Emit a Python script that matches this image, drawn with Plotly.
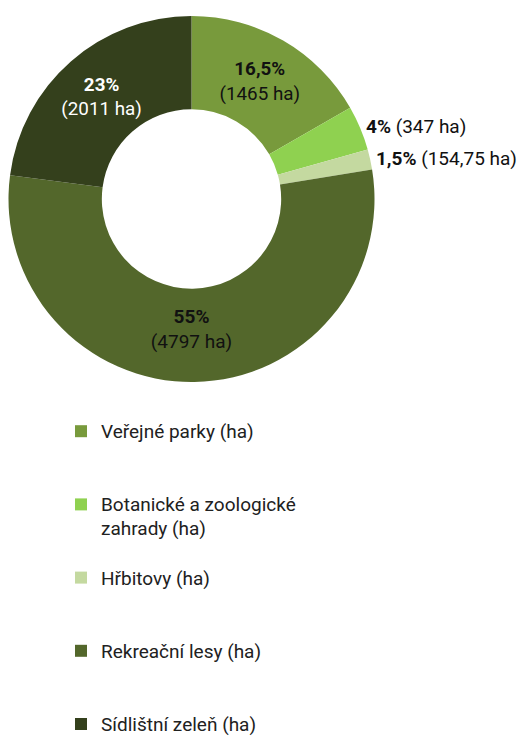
import plotly.graph_objects as go

# Urban green space categories and their areas in hectares
categories = [
    "Veřejné parky (ha)",
    "Botanické a zoologické<br>zahrady (ha)",
    "Hřbitovy (ha)",
    "Rekreační lesy (ha)",
    "Sídlištní zeleň (ha)",
]
area_ha = [1465, 347, 154.75, 4797, 2011]
share_labels = ["16,5%", "4%", "1,5%", "55%", "23%"]

colors = ["#789a3c", "#8fd150", "#c4d9a0", "#53672b", "#34401c"]
text_colors = ["#111111", "#111111", "#111111", "#111111", "#ffffff"]
text_positions = ["inside", "outside", "outside", "inside", "inside"]


def fmt_ha(v):
    s = f"{v:g}"
    return s.replace(".", ",")


slice_text = []
for share, ha, pos in zip(share_labels, area_ha, text_positions):
    sep = "<br>" if pos == "inside" else " "
    slice_text.append(f"<b>{share}</b>{sep}({fmt_ha(ha)} ha)")

# legend entries: larger glyphs, padded with blank lines for even spacing
legend_labels = []
for i, c in enumerate(categories):
    n_lines = c.count("<br>") + 1
    pad = "" if i == len(categories) - 1 else "<br>\u00a0" * (3 - n_lines)
    legend_labels.append(f'<span style="font-size:19px">{c}</span>{pad}')

W, H = 531, 736
cx, cy, r = 191.5, 199, 183

fig = go.Figure(
    go.Pie(
        labels=legend_labels,
        values=area_ha,
        text=slice_text,
        textinfo="text",
        textposition=text_positions,
        insidetextorientation="horizontal",
        textfont=dict(family="Roboto", size=19, color=text_colors),
        marker=dict(colors=colors, line=dict(width=0)),
        hole=0.49,
        sort=False,
        direction="clockwise",
        rotation=0,
        domain=dict(
            x=[(cx - r) / W, (cx + r) / W],
            y=[(H - cy - r) / H, (H - cy + r) / H],
        ),
        hoverinfo="label+value",
    )
)

fig.update_layout(
    width=W,
    height=H,
    margin=dict(l=0, r=0, t=0, b=0, autoexpand=False),
    paper_bgcolor="white",
    plot_bgcolor="white",
    font=dict(family="Roboto", color="#212121"),
    showlegend=True,
    legend=dict(
        x=61 / W,
        xanchor="left",
        y=1 - 413 / H,
        yanchor="top",
        font=dict(family="Roboto", size=18, color="#212121"),
        valign="top",
        bgcolor="rgba(0,0,0,0)",
    ),
)

fig.write_html("out.html")
